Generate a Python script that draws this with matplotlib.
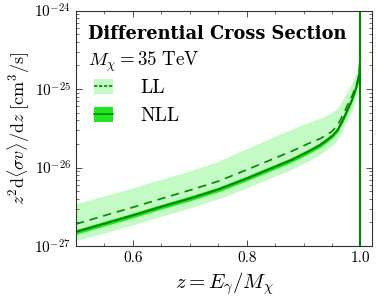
import numpy as np
import matplotlib
matplotlib.use("Agg")
import matplotlib.pyplot as plt
from matplotlib.patches import Patch
from matplotlib.lines import Line2D

plt.rcParams['font.family'] = 'serif'
plt.rcParams['font.serif'] = ['cmr10']
plt.rcParams['mathtext.fontset'] = 'cm'
plt.rcParams['axes.formatter.use_mathtext'] = True

# data (log10 of z^2 d<sigma v>/dz in cm^3/s)
z = [0.5, 0.55, 0.6, 0.65, 0.7, 0.75, 0.8, 0.85, 0.88, 0.91, 0.93, 0.95,
     0.96, 0.97, 0.98, 0.985, 0.99, 0.995, 0.998, 0.9995]
nll_log = [-26.82, -26.715, -26.61, -26.50, -26.395, -26.28, -26.14, -25.99, -25.90, -25.79,
           -25.71, -25.60, -25.52, -25.38, -25.22, -25.14, -25.04, -24.92, -24.80, -24.60]
ll_log = [-26.72, -26.613, -26.507, -26.397, -26.29, -26.175, -26.03, -25.88, -25.79, -25.69,
          -25.63, -25.54, -25.46, -25.32, -25.16, -25.09, -25.00, -24.89, -24.78, -24.60]
ll_up_log = [-26.46, -26.36, -26.26, -26.15, -26.045, -25.92, -25.76, -25.60, -25.51, -25.42,
             -25.37, -25.30, -25.24, -25.12, -24.99, -24.92, -24.83, -24.75, -24.70, -24.55]
ll_lo_log = [-26.93, -26.835, -26.73, -26.62, -26.515, -26.40, -26.26, -26.11, -26.02, -25.91,
             -25.83, -25.72, -25.64, -25.50, -25.35, -25.27, -25.18, -25.04, -24.88, -24.64]
nll_err = 0.03
z_end = 1.0
y_ticks = [1e-27, 1e-26, 1e-25, 1e-24]
x_ticks = [0.6, 0.8, 1.0]
x_ticklabels = ['0.6', '0.8', '1.0']
mass_label = r"$M_\chi = 35\ \mathrm{TeV}$"
title = "Differential Cross Section"

z = np.array(z)
nll = 10 ** np.array(nll_log)
ll = 10 ** np.array(ll_log)
ll_up = 10 ** np.array(ll_up_log)
ll_lo = 10 ** np.array(ll_lo_log)
nll_up = 10 ** (np.array(nll_log) + nll_err)
nll_lo = 10 ** (np.array(nll_log) - nll_err)

fig = plt.figure(figsize=(3.76, 3.0), dpi=100)
ax = fig.add_axes([0.202, 0.18, 0.787, 0.785])

c_light = '#c4fac4'
c_bright = '#22e622'
c_line = '#008a00'

ax.fill_between(z, ll_lo, ll_up, color=c_light, lw=0)
ax.fill_between(z, nll_lo, nll_up, color=c_bright, lw=0)
ax.plot(z, ll, color=c_line, ls=(0, (5, 3.5)), lw=1.2)
ax.plot(z, nll, color=c_line, lw=1.5)
ax.axvline(z_end, color=c_line, lw=1.5)

ax.set_yscale('log')
ax.set_xlim(0.5, 1.02)
ax.set_ylim(1e-27, 1e-24)
ax.set_yticks(y_ticks)
ax.set_xticks(x_ticks)
ax.set_xticklabels(x_ticklabels)
ax.xaxis.set_minor_locator(matplotlib.ticker.MultipleLocator(0.05))
ax.yaxis.set_minor_formatter(matplotlib.ticker.NullFormatter())
ax.tick_params(which='both', direction='in', top=True, right=True, labelsize=11, color='#333333')
ax.tick_params(which='major', length=4, width=0.6)
ax.tick_params(which='minor', length=2, width=0.5)
for s in ax.spines.values():
    s.set_color('#333333')
    s.set_linewidth(0.8)

ax.set_xlabel(r"$z = E_\gamma/M_\chi$", fontsize=15, labelpad=4)
ax.set_ylabel(r"$z^2\mathrm{d}\langle\sigma v\rangle/\mathrm{d}z\ [\mathrm{cm}^3/\mathrm{s}]$", fontsize=13, labelpad=2)

ax.text(0.04, 0.94, title, transform=ax.transAxes, fontsize=12.8, family='DejaVu Serif',
        fontweight='bold', va='top', ha='left')
ax.text(0.04, 0.835, mass_label, transform=ax.transAxes, fontsize=13.6, va='top', ha='left')

h_ll = (Patch(facecolor=c_light, edgecolor='none'), Line2D([], [], color=c_line, ls=(0, (2, 1)), lw=1.2))
h_nll = (Patch(facecolor=c_bright, edgecolor='none'), Line2D([], [], color=c_line, lw=1.2))
ax.legend([h_ll, h_nll], ['LL', 'NLL'], loc='upper left', bbox_to_anchor=(0.01, 0.775), frameon=False,
          fontsize=14, handlelength=0.95, handleheight=0.8, handletextpad=1.4, labelspacing=0.5,
          borderpad=0.3)

fig.savefig('out.png', dpi=100)
